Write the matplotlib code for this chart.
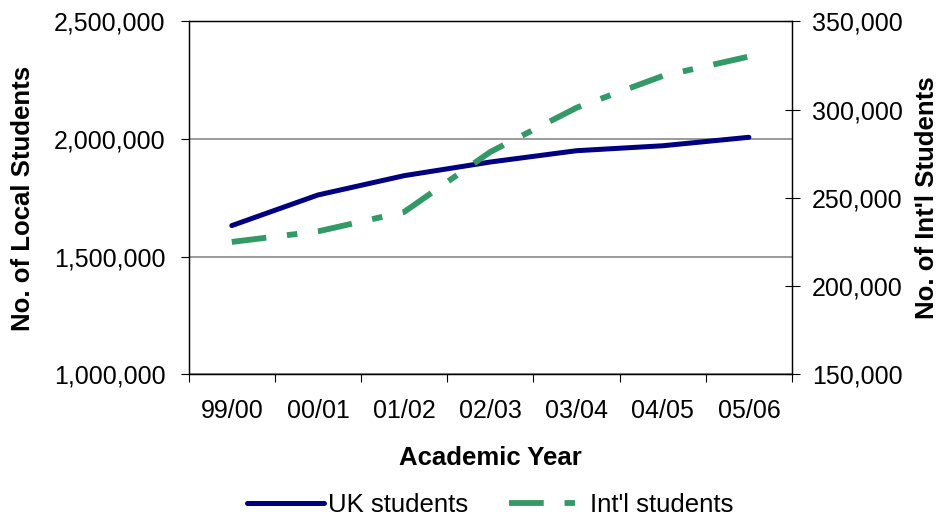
import matplotlib
matplotlib.use("Agg")
import matplotlib.pyplot as plt
from matplotlib.ticker import FuncFormatter, FixedLocator

plt.rcParams['font.family'] = ['Liberation Sans', 'DejaVu Sans']
plt.rcParams['lines.scale_dashes'] = False

years = ["99/00", "00/01", "01/02", "02/03", "03/04", "04/05", "05/06"]
uk_students = [1632000, 1762000, 1844000, 1902000, 1950000, 1971000, 2007000]
intl_students = [225000, 231000, 242000, 276000, 301000, 319000, 330000]

left_ticks = [1000000, 1500000, 2000000, 2500000]
right_ticks = [150000, 200000, 250000, 300000, 350000]

W, H = 946, 519
fig = plt.figure(figsize=(W / 100, H / 100), dpi=100)
ax = fig.add_axes([188.7 / W, 1 - 374.4 / H, (792 - 188.7) / W, (374.4 - 21.2) / H])
ax2 = ax.twinx()

x = list(range(len(years)))
navy = "#000080"
green = "#339966"

ax.plot(x, uk_students, color=navy, lw=3.6, solid_capstyle="round", zorder=3,
        label="UK students")
dash = (0, (25, 15, 7.5, 15))
ax2.plot(x, intl_students, color=green, lw=4.2, linestyle=dash,
         dash_capstyle="butt", zorder=3, label="Int'l students")

fmt = FuncFormatter(lambda v, p: f"{v:,.0f}")

ax.set_xlim(-0.5, len(years) - 0.5)
ax.set_ylim(left_ticks[0], left_ticks[-1])
ax.yaxis.set_major_locator(FixedLocator(left_ticks))
ax.yaxis.set_major_formatter(fmt)
ax2.set_ylim(right_ticks[0], right_ticks[-1])
ax2.yaxis.set_major_locator(FixedLocator(right_ticks))
ax2.yaxis.set_major_formatter(fmt)

ax.set_xticks(x)
ax.set_xticklabels(years)
ax.set_xticks([i - 0.5 for i in range(len(years) + 1)], minor=True)
ax.tick_params(axis="x", which="major", length=0, pad=18, labelsize=18)
ax.tick_params(axis="x", which="minor", length=5.8, width=0.8, direction="out")
ax.tick_params(axis="y", length=5.8, width=0.8, direction="out", pad=11, labelsize=18)
ax2.tick_params(axis="y", length=10.8, width=0.8, direction="inout", pad=9, labelsize=18)

ax.grid(axis="y", color="#808080", lw=1.1, zorder=1)
ax.set_axisbelow(True)
for a in (ax, ax2):
    for s in a.spines.values():
        s.set_color("black")
        s.set_linewidth(0.9)

fig.text(23 / W, 1 - 198 / H, "No. of Local Students", rotation=90,
         ha="center", va="center", fontsize=18.5, fontweight="bold")
fig.text(927 / W, 1 - 198 / H, "No. of Int'l Students", rotation=90,
         ha="center", va="center", fontsize=18.5, fontweight="bold")
fig.text(490 / W, 1 - 458 / H, "Academic Year", ha="center", va="center",
         fontsize=18.5, fontweight="bold")

h1, l1 = ax.get_legend_handles_labels()
h2, l2 = ax2.get_legend_handles_labels()
fig.legend(h1 + h2, l1 + l2, loc="center", bbox_to_anchor=(490 / W, 1 - 505 / H),
           ncol=2, frameon=False, fontsize=18.5, handlelength=3.0,
           handletextpad=0.15, columnspacing=1.6)

fig.savefig("out.png", dpi=100)
